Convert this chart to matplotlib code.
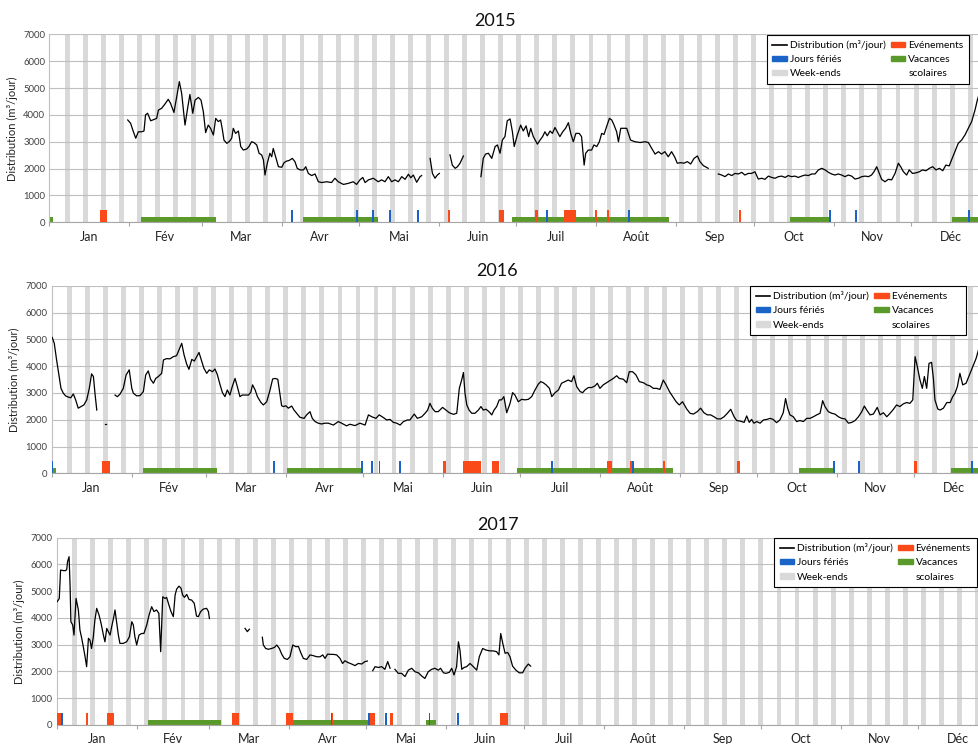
import numpy as np
import matplotlib
matplotlib.use("Agg")
import matplotlib.pyplot as plt
from matplotlib.patches import Patch
from matplotlib.lines import Line2D

plt.rcParams['font.family'] = ['Lato', 'DejaVu Sans']

# ---------------- data ----------------
months = ["Jan", "Fév", "Mar", "Avr", "Mai", "Juin", "Juil", "Août", "Sep", "Oct", "Nov", "Déc"]
month_len = [31, 28, 31, 30, 31, 30, 31, 31, 30, 31, 30, 31]
month_len_leap = [31, 29, 31, 30, 31, 30, 31, 31, 30, 31, 30, 31]
yticks = [0, 1000, 2000, 3000, 4000, 5000, 6000, 7000]
years = ["2015", "2016", "2017"]

# daily distribution (day index from 1 Jan, m3/day), one list per continuous segment
dist_2015 = [
    [(30.4, 3810), (31.5, 3690), (32.6, 3370), (33.5, 3130), (34.5, 3370), (35.8, 3370), (36.7, 3400),
     (37.3, 4000), (38.1, 4060), (39.3, 3780), (40.6, 3830), (41.6, 3870), (42.3, 4180), (43.5, 4240),
     (44.8, 4400), (46.1, 4580), (47.0, 4430), (48.3, 4090), (49.4, 4680), (50.4, 5240), (51.3, 4800),
     (52.6, 3620), (53.5, 4180), (54.5, 4760), (55.6, 4060), (56.5, 4550), (57.8, 4650), (58.8, 4550),
     (59.7, 4120), (60.6, 3340), (61.6, 3620), (62.5, 3500), (63.6, 3250), (64.5, 3870), (65.5, 3750),
     (66.4, 3810), (67.1, 3440), (67.7, 3060), (68.8, 2940), (69.7, 3000), (70.7, 3130), (71.3, 3500),
     (72.2, 3310), (73.3, 3400), (74.2, 2820), (75.2, 2690), (76.5, 2730), (77.4, 2820), (78.4, 3000),
     (79.3, 2970), (80.4, 2880), (81.3, 2570), (82.3, 2510), (83.0, 2320), (83.6, 1760), (84.5, 2200),
     (85.5, 2570), (86.2, 2440), (86.8, 2750), (87.9, 2380), (88.8, 2070), (90.1, 2050), (91.0, 2220),
     (92.0, 2280), (92.9, 2300), (94.2, 2380), (95.2, 2260), (96.1, 2010), (97.2, 1950), (98.5, 1950),
     (99.4, 2070), (100.4, 1820), (101.7, 1740), (103.0, 1800), (104.3, 1510), (105.6, 1480),
     (107.5, 1510), (109.4, 1480), (110.7, 1640), (112.0, 1510), (114.0, 1410), (115.9, 1450),
     (117.8, 1510), (119.1, 1410), (120.4, 1580), (121.5, 1670), (122.4, 1480), (123.7, 1580),
     (125.6, 1640), (127.5, 1510), (128.8, 1580), (130.1, 1510), (131.4, 1700), (132.7, 1510),
     (134.0, 1580), (135.3, 1510), (136.6, 1700), (137.9, 1600), (139.2, 1790), (140.1, 1660),
     (141.1, 1760), (142.4, 1490), (143.7, 1700), (144.3, 1740)],
    [(147.6, 2380), (148.5, 1820), (149.5, 1640), (150.4, 1760), (151.2, 1820)],
    [(155.3, 2510), (156.2, 2130), (157.3, 2010), (158.2, 2070), (159.2, 2200), (160.5, 2470)],
    [(167.3, 1700), (168.2, 2380), (169.1, 2540), (170.2, 2570), (171.5, 2380), (172.8, 2820),
     (173.7, 2880), (174.7, 2570), (175.6, 3060), (176.6, 3190), (177.5, 3780), (178.6, 3850),
     (179.5, 3370), (180.2, 2820), (181.4, 3250), (182.7, 3620), (183.7, 3400), (184.8, 3590),
     (185.8, 3190), (186.6, 3500), (187.6, 3190), (189.2, 2910), (190.2, 3060), (191.2, 3190),
     (192.1, 3370), (193.0, 3220), (194.1, 3400), (195.0, 3310), (196.0, 3530), (196.9, 3370),
     (197.9, 3190), (199.0, 3370), (200.1, 3500), (201.2, 3710), (202.1, 3310), (203.1, 3000),
     (204.1, 3310), (205.4, 3310), (206.3, 3190), (207.3, 2130), (207.9, 2570), (208.9, 2690),
     (210.2, 2690), (211.1, 2880), (212.2, 2820), (213.2, 3000), (214.1, 3310), (215.0, 3270),
     (216.0, 3560), (217.1, 3870), (218.0, 3810), (218.9, 3620), (219.9, 3370), (220.6, 3000),
     (221.5, 3500), (222.5, 3500), (223.8, 3500), (225.3, 3060), (227.0, 3000), (229.0, 2970),
     (230.9, 3000), (232.2, 2970), (233.5, 2750), (234.8, 2540), (236.1, 2630), (237.3, 2540),
     (238.6, 2630), (239.9, 2440), (241.2, 2630), (242.5, 2410), (243.4, 2200), (244.7, 2220),
     (246.0, 2200), (247.3, 2260), (248.6, 2170), (249.9, 2380), (251.2, 2470), (252.2, 2260),
     (253.5, 2110), (255.4, 2010)],
    [(259.3, 1800), (260.6, 1760), (261.9, 1700), (263.2, 1800), (264.5, 1740), (265.8, 1820),
     (267.1, 1800), (268.4, 1860), (269.6, 1760), (270.9, 1820), (272.2, 1820), (273.5, 1880),
     (274.8, 1610), (276.1, 1640), (277.4, 1600), (278.7, 1720), (280.0, 1670), (281.3, 1640),
     (282.6, 1700), (283.9, 1720), (285.2, 1670), (286.4, 1740), (287.7, 1700), (289.0, 1720),
     (290.3, 1670), (291.6, 1720), (292.9, 1760), (294.2, 1740), (295.5, 1800), (296.8, 1800),
     (298.1, 1950), (299.4, 2010), (300.7, 1950), (302.0, 1860), (303.2, 1800), (304.5, 1760),
     (305.8, 1800), (307.1, 1760), (308.4, 1700), (309.7, 1760), (311.0, 1720), (312.3, 1610),
     (313.6, 1640), (314.9, 1700), (316.2, 1720), (317.5, 1700), (318.7, 1760), (319.7, 1890),
     (320.7, 2070), (321.7, 1820), (322.6, 1600), (323.9, 1510), (325.2, 1600), (326.5, 1580),
     (327.8, 1820), (329.1, 2200), (330.0, 2070), (331.0, 1890), (332.3, 1760), (333.3, 1950),
     (334.6, 1820), (335.9, 1840), (337.2, 1880), (338.5, 1950), (339.8, 1920), (341.1, 2010),
     (342.4, 2070), (343.7, 1950), (345.0, 2010), (346.3, 1920), (347.5, 2130), (348.8, 2100),
     (349.7, 2320), (351.0, 2630), (352.3, 2940), (353.6, 3060), (354.9, 3250), (356.2, 3500),
     (357.5, 3750), (358.8, 4180), (359.7, 4550), (360.3, 4740), (361.5, 4900)],
]

dist_2016 = [
    [(0.2, 5070), (1.0, 4850), (1.9, 4230), (2.8, 3670), (3.6, 3170), (4.5, 2990), (5.4, 2890),
     (6.5, 2840), (7.4, 2820), (8.4, 2960), (9.3, 2740), (10.3, 2430), (11.4, 2490), (12.5, 2550),
     (13.6, 2740), (14.6, 3170), (15.5, 3710), (16.2, 3610), (16.8, 2990), (17.5, 2360)],
    [(20.8, 1830), (21.2, 1830)],
    [(24.6, 2920), (25.5, 2860), (26.5, 2950), (27.8, 3170), (28.9, 3670), (30.1, 3860), (31.1, 3170),
     (31.7, 2990), (33.0, 2890), (34.3, 2900), (35.6, 3050), (36.5, 3670), (37.5, 3820), (38.4, 3510),
     (39.5, 3360), (40.4, 3540), (41.4, 3610), (42.7, 3730), (43.4, 4230), (44.6, 4280), (45.9, 4270),
     (47.2, 4350), (48.5, 4390), (49.4, 4600), (50.5, 4850), (51.4, 4420), (52.4, 4080), (53.3, 3880),
     (54.4, 4250), (55.4, 4190), (56.3, 4350), (57.2, 4510), (58.2, 4200), (59.1, 3920), (60.2, 3730),
     (61.2, 3860), (62.4, 3790), (63.4, 3890), (64.3, 3690), (65.4, 3300), (66.3, 3010), (67.3, 2860),
     (68.2, 3110), (69.2, 2920), (70.1, 3230), (71.2, 3540), (72.1, 3230), (73.1, 2860), (74.0, 2920),
     (75.1, 2920), (76.4, 2920), (77.3, 3020), (78.0, 3300), (79.0, 3110), (79.9, 2860), (81.2, 2650),
     (82.2, 2550), (83.5, 2670), (84.8, 3110), (85.8, 3520), (86.7, 3540), (87.8, 3510), (88.7, 2920),
     (89.3, 2520), (90.0, 2490), (90.9, 2520), (91.9, 2430), (93.2, 2510), (94.1, 2360), (95.1, 2240),
     (96.4, 2090), (98.0, 2050), (99.0, 2180), (100.3, 2300), (101.2, 2050), (102.3, 1930),
     (103.5, 1870), (104.8, 1840), (106.1, 1870), (107.4, 1870), (109.4, 1800), (111.3, 1930),
     (112.6, 1870), (114.5, 1770), (115.8, 1830), (117.8, 1780), (119.7, 1870), (121.7, 1800),
     (123.0, 2180), (124.3, 2110), (125.9, 2050), (127.2, 2180), (128.8, 2080), (130.1, 1990),
     (131.4, 2010), (132.7, 1900), (134.0, 1870), (135.3, 1800), (136.6, 1930), (138.1, 1990),
     (139.1, 1990), (140.8, 2210), (142.0, 2050), (143.7, 2110), (145.0, 2240), (146.0, 2360),
     (146.9, 2610), (147.8, 2430), (148.9, 2300), (150.1, 2300), (151.8, 2460), (153.1, 2360),
     (154.4, 2260), (156.0, 2200), (157.3, 2240), (158.3, 3170), (159.2, 3480), (159.9, 3760),
     (160.5, 2990), (161.2, 2550), (162.1, 2360), (163.1, 2240), (164.4, 2240), (165.7, 2360),
     (166.7, 2490), (167.6, 2360), (168.7, 2390), (169.8, 2300), (170.9, 2180), (171.8, 2360),
     (172.8, 2490), (173.8, 2740), (174.7, 2740), (175.6, 2860), (176.7, 2260), (178.0, 2610),
     (179.0, 3010), (179.9, 2920), (181.2, 2670), (182.5, 2760), (183.8, 2740), (185.1, 2760),
     (186.4, 2860), (187.7, 3110), (189.0, 3330), (189.9, 3420), (190.9, 3380), (192.0, 3300),
     (193.3, 3170), (194.2, 2860), (195.5, 3010), (196.8, 3110), (198.0, 3360), (199.3, 3420),
     (200.6, 3480), (201.9, 3420), (202.8, 3640), (203.9, 3230), (205.2, 3050), (206.2, 3010),
     (207.1, 3110), (208.4, 3200), (209.7, 3200), (211.0, 3260), (211.9, 3360), (212.9, 3170),
     (214.2, 3300), (215.5, 3380), (216.8, 3460), (218.1, 3540), (219.4, 3640), (220.4, 3540),
     (222.0, 3510), (223.3, 3380), (224.3, 3790), (225.6, 3790), (226.9, 3670), (228.2, 3420),
     (229.8, 3380), (231.1, 3300), (232.4, 3260), (233.6, 3170), (234.9, 3170), (236.2, 3130),
     (237.5, 3480), (238.6, 3300), (239.9, 3050), (241.2, 2860), (242.5, 2670), (243.7, 2550),
     (245.0, 2670), (246.6, 2400), (247.9, 2240), (249.2, 2210), (250.7, 2300), (252.0, 2430),
     (253.3, 2260), (254.6, 2180), (255.9, 2180), (257.2, 2110), (258.5, 2030), (259.8, 2030),
     (261.1, 2110), (262.4, 2240), (263.7, 2390), (265.0, 2110), (266.0, 1970), (267.3, 1950),
     (268.9, 1900), (269.9, 2140), (270.9, 1900), (271.8, 2010), (272.7, 1870), (273.8, 1930),
     (275.1, 1870), (276.4, 1990), (277.7, 2010), (279.0, 2050), (280.2, 2010), (281.5, 1890),
     (282.8, 1990), (284.1, 2260), (285.0, 2790), (285.8, 2430), (286.7, 2180), (288.0, 2110),
     (289.3, 1930), (290.6, 1970), (291.9, 1930), (293.2, 2050), (294.5, 2050), (295.8, 2110),
     (297.1, 2180), (298.4, 2240), (299.4, 2710), (300.3, 2490), (301.6, 2300), (302.9, 2240),
     (304.2, 2210), (305.5, 2110), (306.8, 2050), (308.1, 2030), (309.4, 1870), (310.7, 1900),
     (312.0, 1970), (313.3, 2110), (314.6, 2300), (315.6, 2510), (316.5, 2360), (317.8, 2180),
     (319.1, 2210), (320.6, 2460), (321.7, 2180), (323.0, 2260), (324.3, 2110), (325.6, 2240),
     (326.9, 2390), (328.1, 2550), (329.4, 2490), (330.7, 2590), (332.0, 2640), (333.3, 2610),
     (334.4, 2740), (335.3, 4350), (335.9, 4100), (337.2, 3480), (338.1, 3170), (338.9, 3610),
     (339.8, 3170), (340.7, 4100), (341.7, 4140), (342.4, 3540), (343.0, 2740), (344.1, 2400),
     (345.0, 2360), (346.3, 2430), (347.6, 2640), (348.9, 2640), (349.9, 2860), (350.8, 2990),
     (351.7, 3230), (352.7, 3730), (353.8, 3300), (355.1, 3360), (356.4, 3670), (357.7, 3980),
     (359.0, 4290), (359.9, 4600), (361.0, 4850)],
]

dist_2017 = [
    [(0.2, 4610), (1.0, 4730), (1.5, 5790), (2.6, 5770), (3.5, 5770), (3.9, 5820), (4.2, 6100),
     (4.8, 6290), (5.2, 5170), (5.5, 3860), (6.2, 3740), (6.7, 3360), (7.5, 4730), (8.4, 4300),
     (9.0, 3550), (9.7, 3240), (10.3, 2930), (11.0, 2550), (11.6, 2180), (12.3, 3240), (12.9, 3170),
     (13.5, 2860), (14.2, 3300), (14.8, 3920), (15.5, 4360), (16.4, 4110), (17.2, 3800), (18.1, 3360),
     (18.7, 3110), (19.4, 3610), (20.0, 3490), (20.7, 3360), (21.3, 3670), (22.0, 3980), (22.6, 4300),
     (23.2, 3860), (23.9, 3360), (24.5, 3050), (25.8, 3050), (27.1, 3110), (28.2, 3300), (29.1, 3860),
     (29.7, 3740), (30.3, 3300), (31.0, 2990), (31.9, 3360), (32.9, 3420), (33.8, 3420), (34.9, 3740),
     (35.8, 4110), (36.8, 4420), (37.7, 4240), (38.7, 4300), (39.6, 4170), (40.3, 2740), (41.1, 4790),
     (42.0, 4730), (42.6, 4770), (43.5, 4480), (44.3, 4240), (45.2, 4050), (45.9, 4860), (46.5, 5080),
     (47.4, 5190), (48.2, 5110), (48.8, 4860), (49.5, 4770), (50.4, 4880), (51.3, 4690), (52.3, 4670),
     (53.3, 4550), (54.2, 4070), (54.9, 4050), (55.8, 4240), (56.8, 4330), (58.1, 4360), (58.8, 4240),
     (59.2, 3980)],
    [(73.0, 3610), (73.9, 3490), (74.7, 3580)],
    [(79.7, 3280), (80.1, 2990), (81.0, 2860), (82.0, 2830), (83.3, 2860), (84.4, 2900), (85.3, 2990),
     (86.3, 2860), (87.2, 2650), (88.2, 2490), (89.4, 2450), (90.4, 2550), (91.5, 2990), (92.6, 2930),
     (93.7, 2930), (94.7, 2680), (95.6, 2490), (96.9, 2450), (98.2, 2620), (99.5, 2590), (100.8, 2550),
     (102.1, 2550), (103.1, 2620), (104.0, 2490), (105.0, 2650), (105.9, 2640), (107.2, 2640),
     (108.5, 2620), (109.8, 2490), (110.8, 2300), (111.7, 2400), (113.0, 2330), (114.3, 2280),
     (115.6, 2220), (116.9, 2300), (118.2, 2280), (119.5, 2370), (120.4, 2390)],
    [(122.5, 2030), (123.4, 2180), (124.7, 2150), (126.0, 2180), (127.2, 2080), (128.3, 2370),
     (129.2, 2120)],
    [(131.1, 2080), (132.4, 1930), (133.7, 1930), (135.0, 1810), (136.3, 2050), (137.6, 2120),
     (138.9, 1990), (140.2, 1950), (141.5, 1830), (142.7, 1740), (144.0, 1990), (145.3, 2080),
     (146.6, 2120), (147.9, 2050), (148.8, 2120), (149.9, 1950), (150.9, 1930), (152.2, 1970),
     (153.1, 2120), (154.0, 1870), (155.0, 2180), (155.7, 3110), (156.3, 2800), (157.0, 2080),
     (157.9, 2150), (158.9, 2180), (160.2, 2300), (161.5, 2180), (162.8, 2050), (163.8, 2550),
     (165.1, 2860), (166.4, 2800), (167.9, 2770), (169.2, 2770), (170.5, 2740), (171.4, 2620),
     (172.1, 3420), (172.9, 3050), (173.8, 2680), (174.8, 2710), (175.7, 2550), (176.7, 2200),
     (178.0, 2050), (179.3, 1950), (180.6, 1950), (181.5, 2120), (182.8, 2280), (183.7, 2200)],
]

# events (start day, duration in days)
events_start = {"2015": [19.7, 154.4, 174.4, 188.3, 199.5, 211.5, 216.3, 267.3],
                "2016": [19.7, 151.8, 159.8, 170.9, 215.5, 224.6, 237.3, 266.3, 335.0],
                "2017": [0.2, 11.4, 19.4, 68.1, 88.9, 106.3, 121.2, 129.3, 171.8]}
events_len = {"2015": [2.8, 0.9, 1.8, 1.0, 4.6, 0.8, 0.8, 0.8],
              "2016": [2.9, 1.2, 6.9, 2.9, 2.0, 1.3, 1.0, 0.9, 1.0],
              "2017": [2.1, 0.8, 2.9, 2.7, 2.8, 0.9, 2.2, 0.9, 3.2]}
# public holidays (day)
holidays = {"2015": [94.0, 119.1, 125.6, 131.9, 143.0, 192.9, 224.8, 302.6, 312.6, 356.6],
            "2016": [0.25, 86.5, 120.5, 124.4, 127.3, 135.4, 194.2, 225.7, 303.7, 313.6, 357.4],
            "2017": [1.9, 106.5, 121.0, 127.7, 144.5, 155.6]}
# school holidays (start, end)
vac_start = {"2015": [0.0, 35.5, 98.4, 179.5, 287.1, 350.0],
             "2016": [0.0, 35.3, 91.3, 180.8, 290.3, 349.1],
             "2017": [0.2, 35.3, 91.1, 143.2]}
vac_end = {"2015": [1.6, 64.5, 127.3, 240.3, 302.6, 365.0],
           "2016": [1.6, 64.3, 120.4, 241.4, 304.2, 366.0],
           "2017": [2.6, 63.7, 120.5, 147.0]}
# week-end bands (first day of each week-end)
weekend_first = list(range(6, 366, 7))

dists = {"2015": dist_2015, "2016": dist_2016, "2017": dist_2017}
n_days = {"2015": 365, "2016": 366, "2017": 365}

# ---------------- style / layout ----------------
W, H = 979, 744
C_LINE = "black"
C_EVT = "#FA4A1A"
C_HOL = "#1A64C8"
C_VAC = "#5A9A2A"
C_WE = "#D9D9D9"
C_GRID = "#BFBFBF"

# axes boxes in pixels: left, top, px per day, bottom
boxes = {"2015": (49.3, 34.3, 2.58, 222.3),
         "2016": (51.7, 285.7, 2.575, 473.3),
         "2017": (56.7, 537.7, 2.58, 725.0)}
title_pos = {"2015": (495, 21), "2016": (497, 271), "2017": (498, 525)}
legend_pos = {"2015": (766.7, 34.5), "2016": (750, 285.7), "2017": (774, 537.7)}

fig = plt.figure(figsize=(W / 100, H / 100), dpi=100)

for yr in years:
    L, T, ppd, B = boxes[yr]
    nd = n_days[yr]
    ax = fig.add_axes([L / W, 1 - B / H, nd * ppd / W, (B - T) / H])
    ax.set_xlim(0, nd)
    ax.set_ylim(0, 7000)

    # week-end bands
    ax.bar(weekend_first, 7000, width=1.9, align="edge", color=C_WE, zorder=1, linewidth=0)
    # grid
    ax.set_yticks(yticks)
    ax.grid(axis="y", color=C_GRID, linewidth=0.8, zorder=1.5)
    ax.set_axisbelow(False)
    # school holidays
    vs = np.array(vac_start[yr]); ve = np.array(vac_end[yr])
    ax.bar(vs, 200, width=ve - vs, align="edge", color=C_VAC, zorder=2, linewidth=0)
    # events
    ax.bar(events_start[yr], 450, width=events_len[yr], align="edge", color=C_EVT, zorder=3, linewidth=0)
    # holidays
    ax.bar(holidays[yr], 450, width=0.75, align="center", color=C_HOL, zorder=4, linewidth=0)
    # distribution
    for seg in dists[yr]:
        xs = [p[0] for p in seg]; ys = [p[1] for p in seg]
        ax.plot(xs, ys, color=C_LINE, lw=0.9, zorder=5, solid_joinstyle="round")

    # axes cosmetics
    for s in ["top", "right"]:
        ax.spines[s].set_visible(False)
    ax.spines["left"].set_color(C_GRID)
    ax.spines["bottom"].set_color("#A6A6A6")
    ax.spines["left"].set_linewidth(0.8)
    ax.spines["bottom"].set_linewidth(0.8)

    mlen = month_len_leap if nd == 366 else month_len
    bounds = np.concatenate([[0], np.cumsum(mlen)])
    centers = (bounds[:-1] + bounds[1:]) / 2
    ax.set_xticks(bounds)
    ax.set_xticklabels([])
    ax.tick_params(axis="x", which="major", length=3, color="#A6A6A6", width=0.8)
    ax.set_xticks(centers, minor=True)
    ax.set_xticklabels(months, minor=True, fontsize=9, color="#222222")
    ax.tick_params(axis="x", which="minor", length=0, pad=6)
    ax.set_yticklabels([str(v) for v in yticks], fontsize=6.8, color="#404040")
    ax.tick_params(axis="y", length=0, pad=3)
    ax.set_ylabel("Distribution (m³/jour)", fontsize=8, color="#222222", labelpad=4)

    tx, ty = title_pos[yr]
    fig.text(tx / W, 1 - ty / H, yr, ha="center", va="center", fontsize=13, color="#111111")

    handles = [Line2D([], [], color=C_LINE, lw=1.2),
               Patch(color=C_HOL), Patch(color=C_WE),
               Patch(color=C_EVT), Patch(color=C_VAC),
               Patch(facecolor="none", edgecolor="none")]
    labels = ["Distribution (m³/jour)", "Jours fériés", "Week-ends",
              "Evénements", "Vacances", "scolaires"]
    if yr == "2016":
        labels[3] = "Evénements     "
    lx, ly = legend_pos[yr]
    leg = ax.legend(handles, labels, ncol=2, loc="upper left",
                    bbox_to_anchor=(lx / W, 1 - ly / H), bbox_transform=fig.transFigure,
                    borderaxespad=0, fontsize=7.4, frameon=True, fancybox=False,
                    edgecolor="black", framealpha=1, borderpad=0.55, labelspacing=0.5,
                    handlelength=1.4, handleheight=0.4, handletextpad=0.3, columnspacing=0.5)
    leg.get_frame().set_linewidth(0.8)
    leg.set_zorder(10)

fig.savefig("out.png", dpi=100)
